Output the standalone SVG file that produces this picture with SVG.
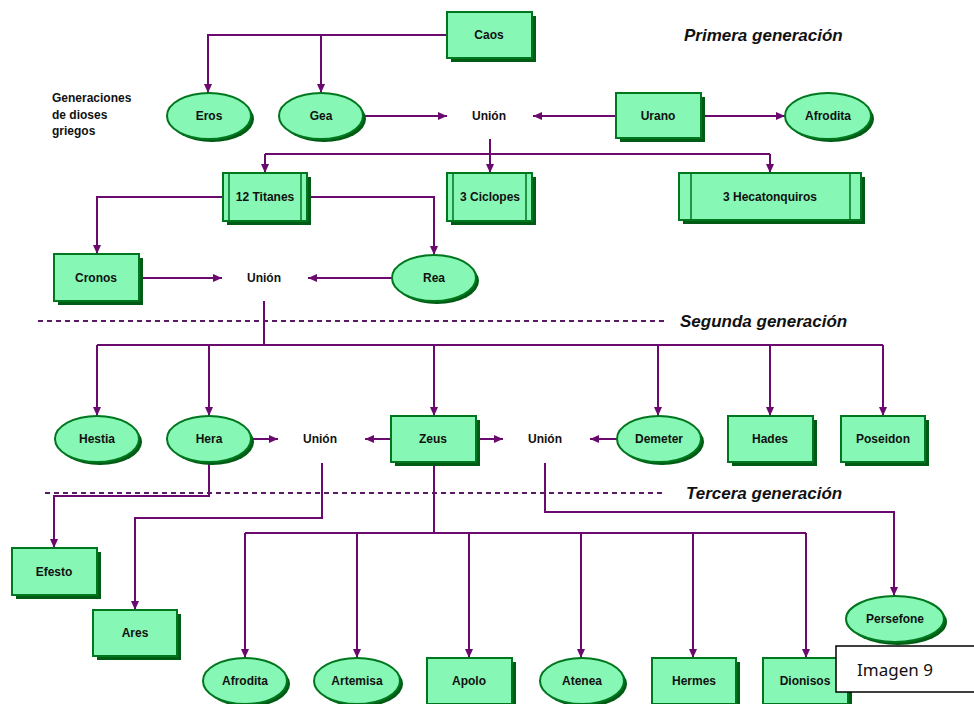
<svg xmlns="http://www.w3.org/2000/svg" width="974" height="704" viewBox="0 0 974 704">
<style>
.sh{fill:#005c14}
.nd{fill:#86f7b4;stroke:#00761e;stroke-width:2}
.in{stroke:#00761e;stroke-width:1.5;fill:none}
.t{font-family:"Liberation Sans",Arial,sans-serif;font-weight:bold;font-size:12px;fill:#111;text-anchor:middle}
.h{font-family:"Liberation Sans",Arial,sans-serif;font-weight:bold;font-style:italic;font-size:17px;fill:#111}
.c{fill:none;stroke:#6a0a6e;stroke-width:2}
.d{fill:none;stroke:#5a1a66;stroke-width:2;stroke-dasharray:5 4}
</style>
<defs>
<marker id="a" markerUnits="userSpaceOnUse" markerWidth="9" markerHeight="8" refX="9" refY="4" orient="auto">
<path d="M0,0 L9,4 L0,8 z" fill="#6a0a6e"/>
</marker>
</defs>
<rect width="974" height="704" fill="#fff"/>

<g id="titles">
<text class="h" x="684" y="41">Primera generación</text>
<text class="h" x="680" y="327">Segunda generación</text>
<text class="h" x="686" y="499">Tercera generación</text>
<text class="t" style="text-anchor:start" x="52" y="102">Generaciones</text>
<text class="t" style="text-anchor:start" x="52" y="119">de dioses</text>
<text class="t" style="text-anchor:start" x="52" y="135">griegos</text>
</g>

<g id="separators">
<path class="d" d="M38,321 H665"/>
<path class="d" d="M45,493 H665"/>
</g>

<g id="connectors">
<path class="c" d="M447,35 H208 V93" marker-end="url(#a)"/>
<path class="c" d="M321,35 V93" marker-end="url(#a)"/>
<path class="c" d="M363,116 H447" marker-end="url(#a)"/>
<path class="c" d="M616,116 H533" marker-end="url(#a)"/>
<path class="c" d="M701,116 H785" marker-end="url(#a)"/>
<path class="c" d="M490,139 V154 M265,154 H770"/>
<path class="c" d="M265,154 V173" marker-end="url(#a)"/>
<path class="c" d="M490,154 V173" marker-end="url(#a)"/>
<path class="c" d="M770,154 V173" marker-end="url(#a)"/>
<path class="c" d="M223,197 H97 V254" marker-end="url(#a)"/>
<path class="c" d="M307,197 H434 V255" marker-end="url(#a)"/>
<path class="c" d="M139,278 H222" marker-end="url(#a)"/>
<path class="c" d="M392,278 H308" marker-end="url(#a)"/>
<path class="c" d="M264,301 V345 M97,345 H883"/>
<path class="c" d="M97,345 V416" marker-end="url(#a)"/>
<path class="c" d="M209,345 V416" marker-end="url(#a)"/>
<path class="c" d="M434,345 V416" marker-end="url(#a)"/>
<path class="c" d="M658,345 V416" marker-end="url(#a)"/>
<path class="c" d="M770,345 V416" marker-end="url(#a)"/>
<path class="c" d="M883,345 V416" marker-end="url(#a)"/>
<path class="c" d="M251,439 H278" marker-end="url(#a)"/>
<path class="c" d="M391,439 H365" marker-end="url(#a)"/>
<path class="c" d="M476,439 H503" marker-end="url(#a)"/>
<path class="c" d="M617,439 H590" marker-end="url(#a)"/>
<path class="c" d="M209,462 V496 H54 V548" marker-end="url(#a)"/>
<path class="c" d="M322,463 V518 H135 V610" marker-end="url(#a)"/>
<path class="c" d="M434,462 V533 M245,533 H806"/>
<path class="c" d="M245,533 V658" marker-end="url(#a)"/>
<path class="c" d="M357,533 V658" marker-end="url(#a)"/>
<path class="c" d="M469,533 V658" marker-end="url(#a)"/>
<path class="c" d="M581,533 V658" marker-end="url(#a)"/>
<path class="c" d="M693,533 V658" marker-end="url(#a)"/>
<path class="c" d="M806,533 V658" marker-end="url(#a)"/>
<path class="c" d="M545,463 V512 H894 V596" marker-end="url(#a)"/>
</g>

<g id="unions">
<text class="t" x="489" y="120">Unión</text>
<text class="t" x="264" y="282">Unión</text>
<text class="t" x="320" y="443">Unión</text>
<text class="t" x="545" y="443">Unión</text>
</g>

<g id="caos"><rect class="sh" x="451" y="16" width="85" height="46"/><rect class="nd" x="447" y="12" width="85" height="46"/><text class="t" x="489" y="39">Caos</text></g>
<g id="eros"><ellipse class="sh" cx="212" cy="119" rx="42" ry="23"/><ellipse class="nd" cx="209" cy="116" rx="42" ry="23"/><text class="t" x="209" y="120">Eros</text></g>
<g id="gea"><ellipse class="sh" cx="324" cy="119" rx="42" ry="23"/><ellipse class="nd" cx="321" cy="116" rx="42" ry="23"/><text class="t" x="321" y="120">Gea</text></g>
<g id="urano"><rect class="sh" x="620" y="97" width="85" height="45"/><rect class="nd" x="616" y="93" width="85" height="45"/><text class="t" x="658" y="120">Urano</text></g>
<g id="afrodita1"><ellipse class="sh" cx="831" cy="119" rx="43" ry="23"/><ellipse class="nd" cx="828" cy="116" rx="43" ry="23"/><text class="t" x="828" y="120">Afrodita</text></g>

<g id="titanes"><rect class="sh" x="227" y="177" width="84" height="48"/><rect class="nd" x="223" y="173" width="84" height="48"/><path class="in" d="M229,173 V221 M301,173 V221"/><text class="t" x="265" y="201">12 Titanes</text></g>
<g id="ciclopes"><rect class="sh" x="451" y="177" width="85" height="48"/><rect class="nd" x="447" y="173" width="85" height="48"/><path class="in" d="M453,173 V221 M526,173 V221"/><text class="t" x="490" y="201">3 Ciclopes</text></g>
<g id="hecatonquiros"><rect class="sh" x="683" y="177" width="182" height="47"/><rect class="nd" x="679" y="173" width="182" height="47"/><path class="in" d="M691,173 V220 M850,173 V220"/><text class="t" x="770" y="201">3 Hecatonquiros</text></g>

<g id="cronos"><rect class="sh" x="58" y="258" width="85" height="47"/><rect class="nd" x="54" y="254" width="85" height="47"/><text class="t" x="96" y="282">Cronos</text></g>
<g id="rea"><ellipse class="sh" cx="437" cy="281" rx="42" ry="23"/><ellipse class="nd" cx="434" cy="278" rx="42" ry="23"/><text class="t" x="434" y="282">Rea</text></g>

<g id="hestia"><ellipse class="sh" cx="100" cy="442" rx="42" ry="23"/><ellipse class="nd" cx="97" cy="439" rx="42" ry="23"/><text class="t" x="97" y="443">Hestia</text></g>
<g id="hera"><ellipse class="sh" cx="212" cy="442" rx="42" ry="23"/><ellipse class="nd" cx="209" cy="439" rx="42" ry="23"/><text class="t" x="209" y="443">Hera</text></g>
<g id="zeus"><rect class="sh" x="395" y="420" width="85" height="46"/><rect class="nd" x="391" y="416" width="85" height="46"/><text class="t" x="433" y="443">Zeus</text></g>
<g id="demeter"><ellipse class="sh" cx="662" cy="442" rx="42" ry="23"/><ellipse class="nd" cx="659" cy="439" rx="42" ry="23"/><text class="t" x="659" y="443">Demeter</text></g>
<g id="hades"><rect class="sh" x="732" y="420" width="85" height="46"/><rect class="nd" x="728" y="416" width="85" height="46"/><text class="t" x="770" y="443">Hades</text></g>
<g id="poseidon"><rect class="sh" x="845" y="420" width="84" height="46"/><rect class="nd" x="841" y="416" width="84" height="46"/><text class="t" x="883" y="443">Poseidon</text></g>

<g id="efesto"><rect class="sh" x="16" y="552" width="85" height="47"/><rect class="nd" x="12" y="548" width="85" height="47"/><text class="t" x="54" y="576">Efesto</text></g>
<g id="ares"><rect class="sh" x="97" y="614" width="84" height="46"/><rect class="nd" x="93" y="610" width="84" height="46"/><text class="t" x="135" y="637">Ares</text></g>
<g id="persefone"><ellipse class="sh" cx="898" cy="622" rx="49" ry="23"/><ellipse class="nd" cx="895" cy="619" rx="49" ry="23"/><text class="t" x="895" y="623">Persefone</text></g>

<g id="afrodita2"><ellipse class="sh" cx="248" cy="684" rx="42" ry="23"/><ellipse class="nd" cx="245" cy="681" rx="42" ry="23"/><text class="t" x="245" y="685">Afrodita</text></g>
<g id="artemisa"><ellipse class="sh" cx="360" cy="684" rx="43" ry="23"/><ellipse class="nd" cx="357" cy="681" rx="43" ry="23"/><text class="t" x="357" y="685">Artemisa</text></g>
<g id="apolo"><rect class="sh" x="431" y="662" width="85" height="46"/><rect class="nd" x="427" y="658" width="85" height="46"/><text class="t" x="469" y="685">Apolo</text></g>
<g id="atenea"><ellipse class="sh" cx="585" cy="684" rx="42" ry="23"/><ellipse class="nd" cx="582" cy="681" rx="42" ry="23"/><text class="t" x="582" y="685">Atenea</text></g>
<g id="hermes"><rect class="sh" x="656" y="662" width="84" height="46"/><rect class="nd" x="652" y="658" width="84" height="46"/><text class="t" x="694" y="685">Hermes</text></g>
<g id="dionisos"><rect class="sh" x="767" y="662" width="85" height="46"/><rect class="nd" x="763" y="658" width="85" height="46"/><text class="t" x="805" y="685">Dionisos</text></g>

<g id="caption"><rect x="836" y="646" width="140" height="46" fill="#fff" stroke="#000" stroke-width="1.5"/><text x="857" y="676" font-family="'Noto Sans','Open Sans',sans-serif" font-size="17" fill="#111">Imagen 9</text></g>
</svg>
